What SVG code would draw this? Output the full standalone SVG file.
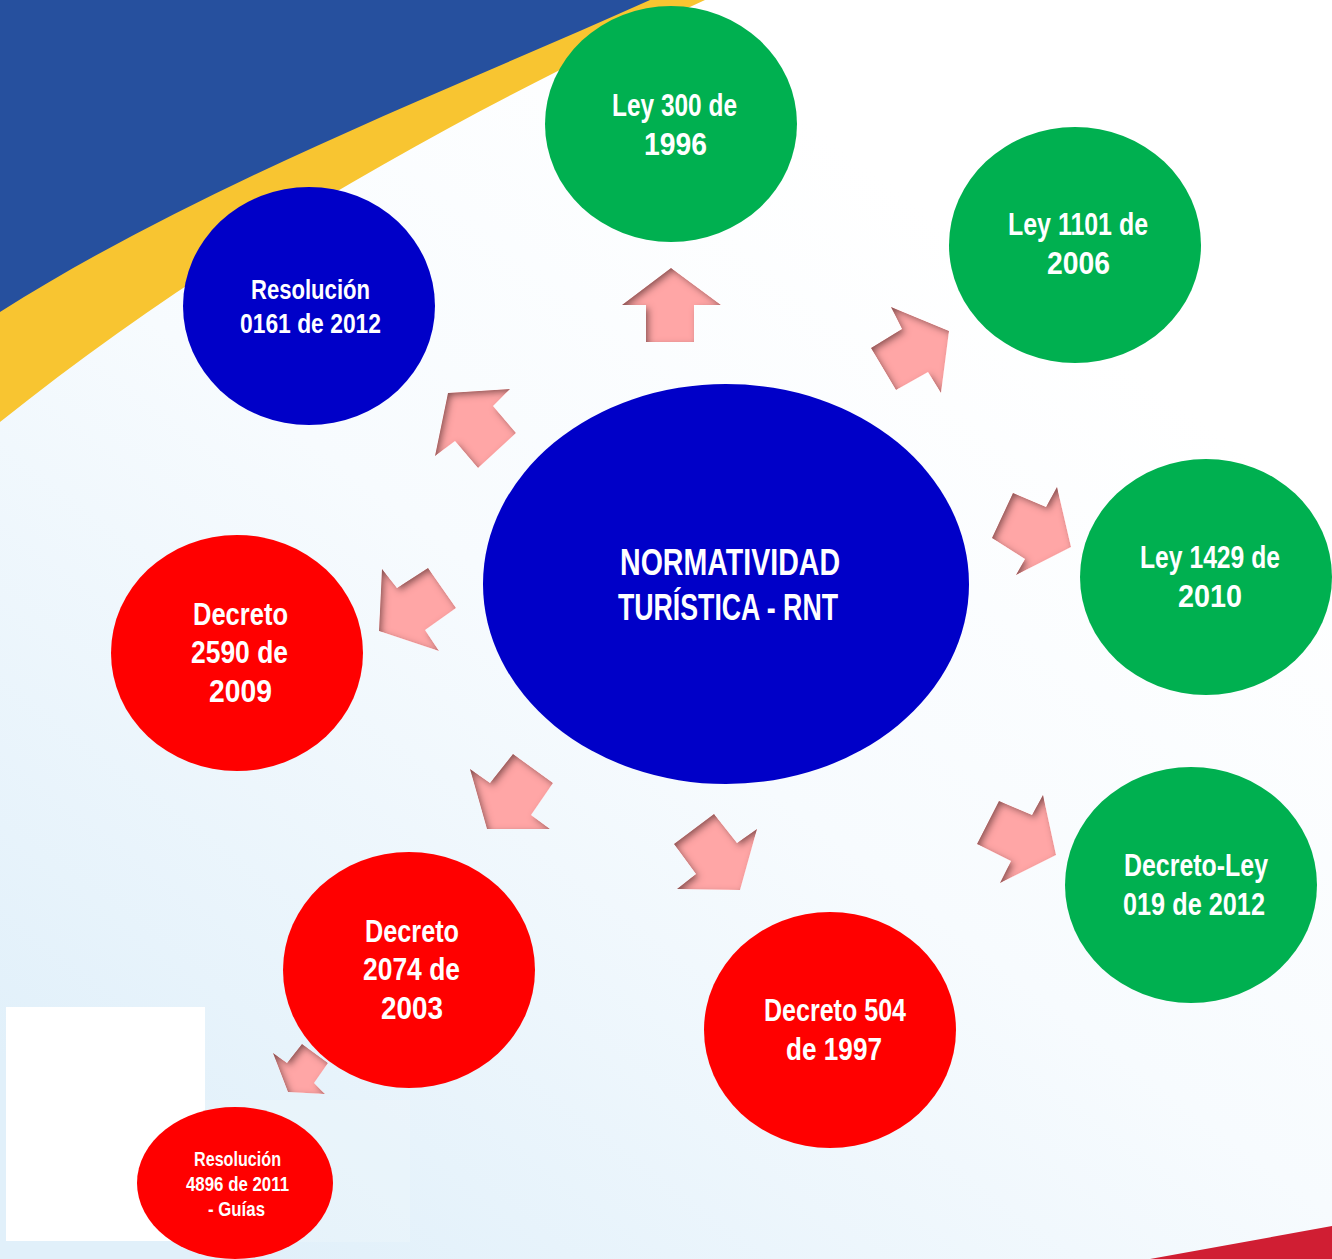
<svg xmlns="http://www.w3.org/2000/svg" width="1332" height="1259" viewBox="0 0 1332 1259">
<style>
.t{font-family:"Liberation Sans",Arial,sans-serif;font-weight:bold;fill:#fff;text-anchor:middle}
.f31{font-size:31px}
.f28{font-size:28px}
.f21{font-size:21px}
.f37{font-size:37px}
.green{fill:#00B050}
.red{fill:#FF0000}
.blue{fill:#0000C8}
.arr{fill:#FFA6A6;filter:url(#bevel)}
</style>
<defs>
<linearGradient id="bg" x1="0.8" y1="0.25" x2="0.2" y2="1">
<stop offset="0" stop-color="#FFFFFF"/>
<stop offset="0.45" stop-color="#F7FBFE"/>
<stop offset="1" stop-color="#E1F0FA"/>
</linearGradient>
<filter id="bevel" x="-20%" y="-20%" width="140%" height="140%">
<feGaussianBlur in="SourceAlpha" stdDeviation="3.5" result="b"/>
<feOffset in="b" dx="3" dy="3" result="o"/>
<feComposite in="SourceAlpha" in2="o" operator="arithmetic" k2="1" k3="-1" result="inner"/>
<feFlood flood-color="#5e3030" flood-opacity="0.85"/>
<feComposite in2="inner" operator="in" result="sh"/>
<feMerge><feMergeNode in="SourceGraphic"/><feMergeNode in="sh"/></feMerge>
</filter>
</defs>
<g id="background">
<rect x="0" y="0" width="1332" height="1259" fill="url(#bg)"/>
<path d="M0,0 L705,0 C500,95 240,230 0,422 Z" fill="#F8C531"/>
<path d="M0,0 L650,0 C450,90 200,185 0,312 Z" fill="#26509E"/>
<path d="M1150,1259 L1332,1226 L1332,1259 Z" fill="#D01E33"/>
<rect x="205" y="1100" width="205" height="142" fill="#FFFFFF" opacity="0.15"/>
<rect x="6" y="1007" width="199" height="234" fill="#FFFFFF"/>
</g>
<g id="connectors">
<polygon class="arr" points="671,268 721,305 694,305 694,342 646,342 646,305 622,305"/>
<polygon class="arr" points="949,331 891,307 902,329 871,348 896,390 928,372 941,393"/>
<polygon class="arr" points="992,538 1013,493 1046,507 1057,487 1071,547 1016,575 1025,559"/>
<polygon class="arr" points="977,844 999,801 1032,815 1043,795 1056,855 1000,883 1011,861"/>
<polygon class="arr" points="674,844 714,814 737,843 757,829 740,890 677,889 696,874"/>
<polygon class="arr" points="470,769 490,783 513,754 553,783 531,815 550,829 487,829"/>
<polygon class="arr" points="382,569 397,588 428,568 456,608 425,630 439,651 379,631"/>
<polygon class="arr" points="448,393 510,389 493,406 516,433 478,468 455,441 435,456"/>
<polygon class="arr" points="273,1053 287,1063 302,1044 328,1063 314,1083 325,1094 288,1092"/>
</g>
<g id="n-center">
<ellipse class="blue" cx="726" cy="584" rx="243" ry="200"/>
<text class="t f37" x="730" y="575" textLength="220" lengthAdjust="spacingAndGlyphs">NORMATIVIDAD</text>
<text class="t f37" x="728" y="620" textLength="220" lengthAdjust="spacingAndGlyphs">TURÍSTICA - RNT</text>
</g>
<g id="n-ley300">
<ellipse class="green" cx="671" cy="124" rx="126" ry="118"/>
<text class="t f31" x="674.5" y="116" textLength="125" lengthAdjust="spacingAndGlyphs">Ley 300 de</text>
<text class="t f31" x="675.5" y="155" textLength="63" lengthAdjust="spacingAndGlyphs">1996</text>
</g>
<g id="n-ley1101">
<ellipse class="green" cx="1075" cy="245" rx="126" ry="118"/>
<text class="t f31" x="1078" y="235" textLength="140" lengthAdjust="spacingAndGlyphs">Ley 1101 de</text>
<text class="t f31" x="1078.5" y="274" textLength="63" lengthAdjust="spacingAndGlyphs">2006</text>
</g>
<g id="n-ley1429">
<ellipse class="green" cx="1206" cy="577" rx="126" ry="118"/>
<text class="t f31" x="1210" y="568" textLength="140" lengthAdjust="spacingAndGlyphs">Ley 1429 de</text>
<text class="t f31" x="1210" y="607" textLength="64" lengthAdjust="spacingAndGlyphs">2010</text>
</g>
<g id="n-dl019">
<ellipse class="green" cx="1191" cy="885" rx="126" ry="118"/>
<text class="t f31" x="1196" y="876" textLength="144" lengthAdjust="spacingAndGlyphs">Decreto-Ley</text>
<text class="t f31" x="1194" y="915" textLength="142" lengthAdjust="spacingAndGlyphs">019 de 2012</text>
</g>
<g id="n-d504">
<ellipse class="red" cx="830" cy="1030" rx="126" ry="118"/>
<text class="t f31" x="835" y="1021" textLength="142" lengthAdjust="spacingAndGlyphs">Decreto 504</text>
<text class="t f31" x="834" y="1060" textLength="96" lengthAdjust="spacingAndGlyphs">de 1997</text>
</g>
<g id="n-d2074">
<ellipse class="red" cx="409" cy="970" rx="126" ry="118"/>
<text class="t f31" x="412" y="942" textLength="94" lengthAdjust="spacingAndGlyphs">Decreto</text>
<text class="t f31" x="411.5" y="980" textLength="97" lengthAdjust="spacingAndGlyphs">2074 de</text>
<text class="t f31" x="412" y="1019" textLength="62" lengthAdjust="spacingAndGlyphs">2003</text>
</g>
<g id="n-r4896">
<ellipse class="red" cx="235" cy="1183" rx="98" ry="76"/>
<text class="t f21" x="237.5" y="1166" textLength="87" lengthAdjust="spacingAndGlyphs">Resolución</text>
<text class="t f21" x="237.5" y="1191" textLength="103" lengthAdjust="spacingAndGlyphs">4896 de 2011</text>
<text class="t f21" x="236.5" y="1216" textLength="57" lengthAdjust="spacingAndGlyphs">- Guías</text>
</g>
<g id="n-d2590">
<ellipse class="red" cx="237" cy="653" rx="126" ry="118"/>
<text class="t f31" x="240.5" y="625" textLength="95" lengthAdjust="spacingAndGlyphs">Decreto</text>
<text class="t f31" x="239.5" y="663" textLength="97" lengthAdjust="spacingAndGlyphs">2590 de</text>
<text class="t f31" x="240.5" y="702" textLength="63" lengthAdjust="spacingAndGlyphs">2009</text>
</g>
<g id="n-r0161">
<ellipse class="blue" cx="309" cy="306" rx="126" ry="119"/>
<text class="t f28" x="310.5" y="299" textLength="119" lengthAdjust="spacingAndGlyphs">Resolución</text>
<text class="t f28" x="310.5" y="333" textLength="141" lengthAdjust="spacingAndGlyphs">0161 de 2012</text>
</g>
</svg>
